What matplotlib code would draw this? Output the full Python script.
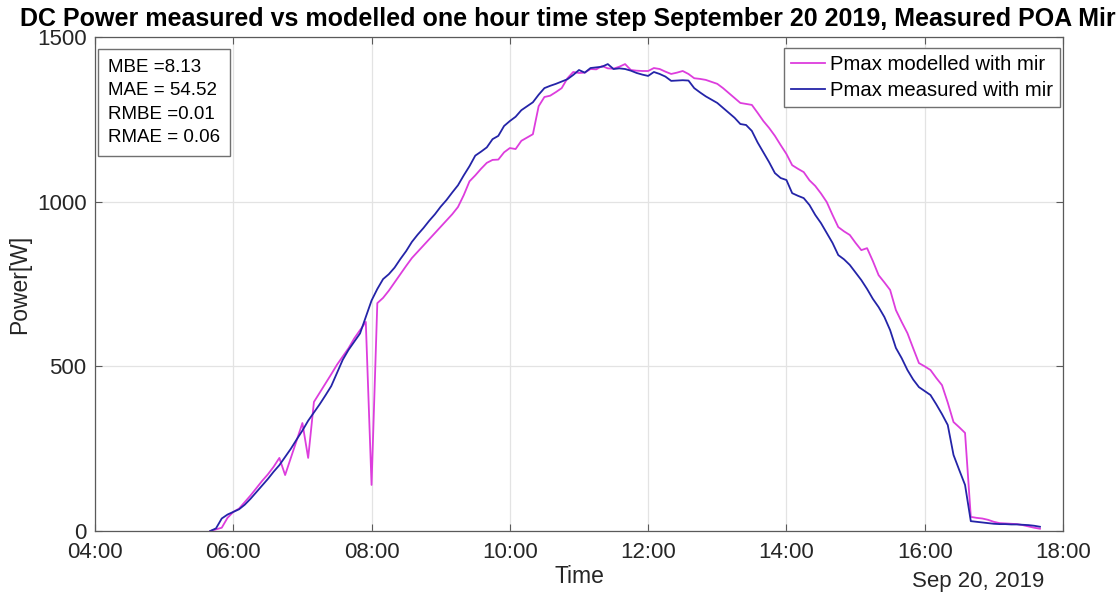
import numpy as np
import pandas as pd
from matplotlib import pyplot as plt
import matplotlib.dates as mdates

plt.rcParams['font.family'] = ['Liberation Sans', 'DejaVu Sans']

# 5-minute samples, 05:40 .. 17:40
times = pd.date_range('2019-09-20 05:40', '2019-09-20 17:40', freq='5min')

measured = [
    0, 8, 38, 50, 58, 66, 80, 98, 118, 138, 158, 180,            # 05:40-06:35
    200, 225, 250, 278, 305, 335, 360, 385, 412, 440, 480, 520,  # 06:40-07:35
    550, 575, 600, 650, 700, 735, 765, 780, 800, 826, 850, 878,  # 07:40-08:35
    900, 920, 942, 962, 985, 1005, 1028, 1050, 1080, 1108, 1140, 1152,  # 08:40-09:35
    1165, 1190, 1200, 1230, 1245, 1258, 1278, 1290, 1302, 1325, 1345, 1352,  # 09:40-10:35
    1358, 1365, 1372, 1385, 1400, 1392, 1406, 1408, 1410, 1418, 1403, 1405,  # 10:40-11:35
    1403, 1398, 1391, 1386, 1382, 1394, 1388, 1380, 1367, 1368, 1369, 1368,  # 11:40-12:35
    1345, 1332, 1320, 1310, 1300, 1285, 1270, 1255, 1236, 1233, 1215, 1180,  # 12:40-13:35
    1150, 1120, 1087, 1072, 1066, 1026, 1018, 1011, 990, 960, 935, 905,  # 13:40-14:35
    875, 838, 825, 808, 785, 762, 735, 705, 680, 650, 610, 556,  # 14:40-15:35
    525, 489, 460, 437, 425, 413, 385, 355, 322, 231, 185, 140,  # 15:40-16:35
    30, 28, 26, 24, 22, 21, 21, 20, 20, 19, 18, 16, 13,  # 16:40-17:40
]

modelled = [
    0, 5, 10, 40, 58, 68, 88, 108, 130, 152, 172, 195,           # 05:40-06:35
    222, 170, 222, 275, 328, 222, 392, 420, 448, 476, 505, 530,  # 06:40-07:35
    555, 585, 610, 635, 140, 692, 708, 730, 755, 780, 805, 829,  # 07:40-08:35
    848, 867, 886, 905, 924, 943, 962, 984, 1020, 1062, 1080, 1100,  # 08:40-09:35
    1118, 1127, 1128, 1150, 1163, 1160, 1185, 1195, 1205, 1290, 1318, 1322,  # 09:40-10:35
    1333, 1345, 1375, 1394, 1391, 1392, 1403, 1402, 1412, 1405, 1404, 1410,  # 10:40-11:35
    1418, 1400, 1398, 1397, 1397, 1406, 1403, 1395, 1388, 1392, 1397, 1388,  # 11:40-12:35
    1375, 1373, 1370, 1364, 1358, 1345, 1330, 1315, 1300, 1297, 1294, 1270,  # 12:40-13:35
    1245, 1224, 1200, 1172, 1145, 1111, 1100, 1090, 1065, 1048, 1025, 999,  # 13:40-14:35
    960, 923, 910, 899, 875, 853, 859, 820, 777, 755, 732, 671,  # 14:40-15:35
    635, 601, 555, 510, 500, 489, 465, 443, 390, 331, 315, 298,  # 15:40-16:35
    43, 40, 38, 34, 28, 24, 23, 22, 21, 18, 14, 10, 7,  # 16:40-17:40
]

stats_text = 'MBE =8.13\nMAE = 54.52\nRMBE =0.01\nRMAE = 0.06'
title = ('DC Power measured vs modelled one hour time step '
         'September 20 2019, Measured POA Mir')


def Run():
  fig = plt.figure(figsize=(11.2, 5.98), dpi=100)
  ax = fig.add_axes([0.0848, 0.112, 0.8643, 0.826])

  ax.plot(times, modelled, color='#dd3ddd', linewidth=1.3,
          label='Pmax modelled with mir')
  ax.plot(times, measured, color='#2424a8', linewidth=1.3,
          label='Pmax measured with mir')

  ax.set_xlim(pd.Timestamp('2019-09-20 04:00'), pd.Timestamp('2019-09-20 18:00'))
  ax.set_ylim(0, 1500)
  ax.set_yticks([0, 500, 1000, 1500])
  ax.xaxis.set_major_locator(mdates.HourLocator(byhour=range(4, 19, 2)))
  ax.xaxis.set_major_formatter(mdates.DateFormatter('%H:%M'))

  ax.grid(True, color='#e3e3e3', linewidth=0.9)
  ax.set_axisbelow(True)
  for s in ax.spines.values():
    s.set_color('#5a5a5a')
    s.set_linewidth(0.9)
  ax.tick_params(direction='in', top=True, right=True, length=5,
                 color='#5a5a5a', labelsize=16, labelcolor='#262626', pad=6)
  ax.tick_params(axis='x', pad=8)

  ax.set_xlabel('Time', fontsize=16.5, color='#262626', labelpad=1)
  ax.set_ylabel('Power[W]', fontsize=16.5, color='#262626', labelpad=4)
  ax.set_title(title, fontsize=18, fontweight='bold', pad=8, x=0.488)
  ax.text(0.981, -0.08, 'Sep 20, 2019', transform=ax.transAxes,
          fontsize=16, color='#262626', ha='right', va='top')

  ax.text(0.0135, 0.955, stats_text, transform=ax.transAxes, fontsize=13.5,
          va='top', ha='left', linespacing=1.47,
          bbox=dict(boxstyle='square,pad=0.55', fc='white', ec='#707070', lw=1))

  leg = ax.legend(loc='upper right', bbox_to_anchor=(0.9969, 0.9777),
                  fontsize=14.6, frameon=True, fancybox=False, framealpha=1,
                  handlelength=1.65, handletextpad=0.25, borderaxespad=0,
                  labelspacing=0.35, borderpad=0.35)
  leg.get_frame().set_edgecolor('#707070')
  leg.get_frame().set_linewidth(1)

  fig.savefig('out.png', dpi=100)


if __name__ == '__main__':
  Run()
